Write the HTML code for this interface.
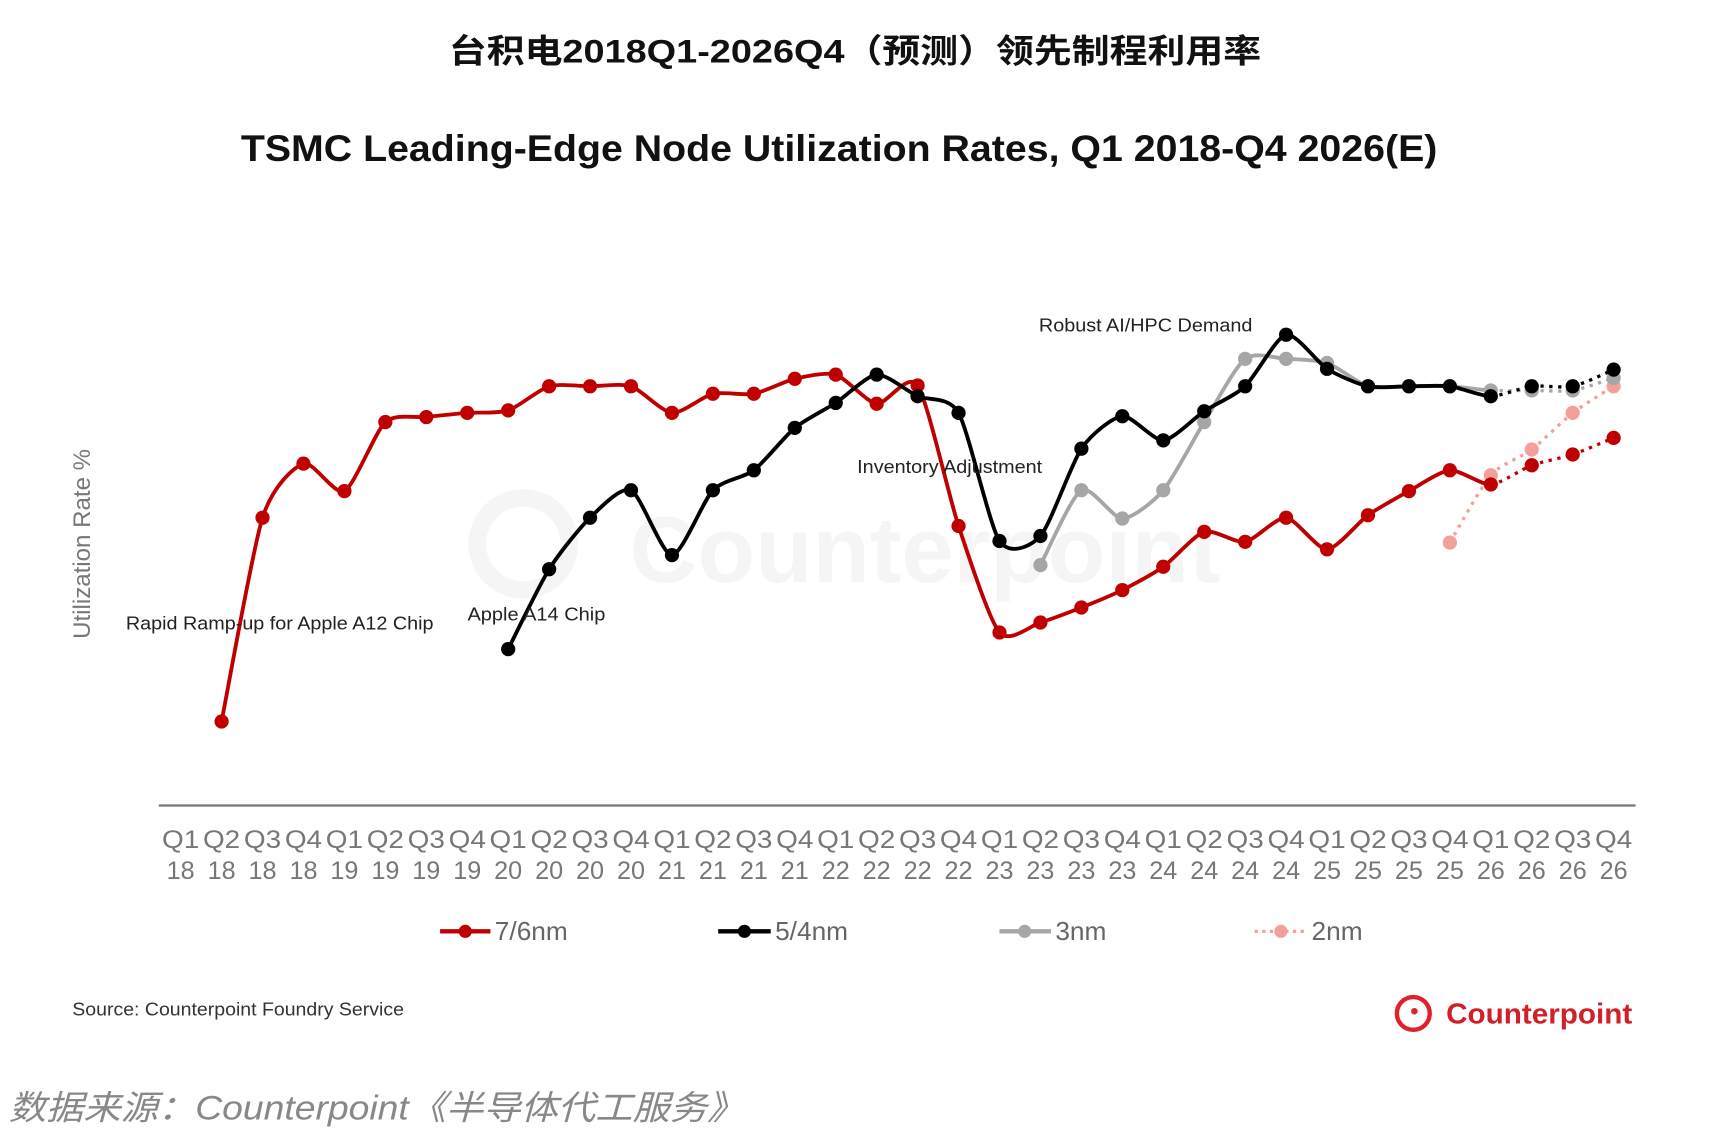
<!DOCTYPE html>
<html><head><meta charset="utf-8">
<style>
html,body{margin:0;padding:0;background:#fff;}
svg{display:block;}
text{font-family:"Liberation Sans","Noto Sans CJK SC",sans-serif;}
</style></head>
<body>
<svg id="chart" width="1716" height="1136" viewBox="0 0 1567.5 1038" preserveAspectRatio="none" xmlns="http://www.w3.org/2000/svg">
<text x="410" y="57" font-size="30" font-weight="bold" fill="#111" textLength="742" lengthAdjust="spacingAndGlyphs">台积电2018Q1-2026Q4（预测）领先制程利用率</text>
<text x="220" y="147" font-size="34" font-weight="bold" fill="#111" textLength="1093" lengthAdjust="spacingAndGlyphs">TSMC Leading-Edge Node Utilization Rates, Q1 2018-Q4 2026(E)</text>
<text x="575" y="532" font-size="86" font-weight="bold" fill="#f5f5f5">Counterpoint</text>
<circle cx="478" cy="497" r="42" fill="none" stroke="#f5f5f5" stroke-width="16"/>
<text transform="translate(82,497) rotate(-90)" text-anchor="middle" font-size="22" fill="#777">Utilization Rate %</text>
<line x1="145" y1="736" x2="1494" y2="736" stroke="#777" stroke-width="2"/>
<g id="xlabels"></g>
<g id="series"></g>
<text x="115" y="575" font-size="17" fill="#222" textLength="281" lengthAdjust="spacingAndGlyphs">Rapid Ramp-up for Apple A12 Chip</text>
<text x="427" y="567" font-size="17" fill="#222" textLength="126" lengthAdjust="spacingAndGlyphs">Apple A14 Chip</text>
<text x="783" y="432" font-size="17" fill="#222" textLength="169" lengthAdjust="spacingAndGlyphs">Inventory Adjustment</text>
<text x="949" y="303" font-size="17" fill="#222" textLength="195" lengthAdjust="spacingAndGlyphs">Robust AI/HPC Demand</text>
<g font-size="24" fill="#666">
  <g><line x1="402" y1="851" x2="448" y2="851" stroke="#c00000" stroke-width="4"/><circle cx="425" cy="851" r="6" fill="#c00000"/><text x="452" y="859">7/6nm</text></g>
  <g><line x1="656" y1="851" x2="704" y2="851" stroke="#000" stroke-width="4"/><circle cx="680" cy="851" r="6" fill="#000"/><text x="708" y="859">5/4nm</text></g>
  <g><line x1="913" y1="851" x2="960" y2="851" stroke="#a6a6a6" stroke-width="4"/><circle cx="936" cy="851" r="6" fill="#a6a6a6"/><text x="964" y="859">3nm</text></g>
  <g><line x1="1146" y1="851" x2="1193" y2="851" stroke="#f4a09a" stroke-width="3" stroke-dasharray="3,4"/><circle cx="1170" cy="851" r="6" fill="#f4a09a"/><text x="1198" y="859">2nm</text></g>
</g>
<text x="66" y="928" font-size="17" fill="#333" textLength="303" lengthAdjust="spacingAndGlyphs">Source: Counterpoint Foundry Service</text>
<g>
  <circle cx="1291" cy="926" r="15" fill="none" stroke="#e0202a" stroke-width="4"/>
  <circle cx="1292" cy="924" r="3" fill="#e0202a"/>
  <text x="1321" y="935" font-size="26" font-weight="bold" fill="#d0202a" textLength="170" lengthAdjust="spacingAndGlyphs">Counterpoint</text>
</g>
<text x="8" y="1023" font-size="31" font-style="italic" fill="#888" textLength="672" lengthAdjust="spacingAndGlyphs">数据来源：Counterpoint《半导体代工服务》</text>
</svg>
<script>
const quarters=["Q1","Q2","Q3","Q4","Q1","Q2","Q3","Q4","Q1","Q2","Q3","Q4","Q1","Q2","Q3","Q4","Q1","Q2","Q3","Q4","Q1","Q2","Q3","Q4","Q1","Q2","Q3","Q4","Q1","Q2","Q3","Q4","Q1","Q2","Q3","Q4"];
const years=["18","18","18","18","19","19","19","19","20","20","20","20","21","21","21","21","22","22","22","22","23","23","23","23","24","24","24","24","25","25","25","25","26","26","26","26"];
const n76=[null,50.1,74.6,81.1,77.8,86.1,86.7,87.2,87.5,90.4,90.4,90.4,87.2,89.5,89.5,91.3,91.8,88.3,90.5,73.6,60.8,62.0,63.8,65.9,68.7,72.9,71.7,74.6,70.8,74.9,77.8,80.3,78.6,80.9,82.2,84.2];
const n54=[null,null,null,null,null,null,null,null,58.8,68.4,74.6,77.9,70.1,77.9,80.3,85.4,88.4,91.8,89.2,87.2,71.8,72.4,82.9,86.8,83.9,87.4,90.4,96.6,92.5,90.4,90.4,90.4,89.2,90.4,90.4,92.4];
const n3=[null,null,null,null,null,null,null,null,null,null,null,null,null,null,null,null,null,null,null,null,null,68.9,77.9,74.5,77.9,86.1,93.7,93.7,93.2,90.4,90.4,90.4,89.9,89.9,89.9,91.4];
const n2=[null,null,null,null,null,null,null,null,null,null,null,null,null,null,null,null,null,null,null,null,null,null,null,null,null,null,null,null,null,null,null,71.6,79.7,82.8,87.2,90.4];
const forecastStart=32;
const NS="http://www.w3.org/2000/svg";
function xPos(i){return 165+i*37.4;}
function yPos(v){return 736-(v-40)*7.6;}
const xl=document.getElementById('xlabels');
quarters.forEach((q,i)=>{
  const t=document.createElementNS(NS,'text');
  
  
  t.setAttribute('x',xPos(i));t.setAttribute('y',775);t.setAttribute('text-anchor','middle');
  t.setAttribute('font-size','23');t.setAttribute('fill','#777');
  t.setAttribute('textLength','34');t.setAttribute('lengthAdjust','spacingAndGlyphs');
  t.textContent=q;xl.appendChild(t);
  const t2=document.createElementNS(NS,'text');
  
  
  t2.setAttribute('x',xPos(i));t2.setAttribute('y',803);t2.setAttribute('text-anchor','middle');
  t2.setAttribute('font-size','23');t2.setAttribute('fill','#777');
  t2.textContent=years[i];xl.appendChild(t2);
});
function seg(p0,p1,p2,p3){
  const k=0.12;
  const c1=[p1[0]+(p2[0]-p0[0])*k,p1[1]+(p2[1]-p0[1])*k];
  const c2=[p2[0]-(p3[0]-p1[0])*k,p2[1]-(p3[1]-p1[1])*k];
  return `M${p1[0]},${p1[1]} C${c1[0]},${c1[1]} ${c2[0]},${c2[1]} ${p2[0]},${p2[1]}`;
}
const sg=document.getElementById('series');
function drawSeries(vals,color,name,allDotted){
  const pts=[];vals.forEach((v,i)=>{if(v!==null)pts.push({i:i,p:[xPos(i),yPos(v)]});});
  const g=document.createElementNS(NS,'g');
  
  
  for(let k=0;k<pts.length-1;k++){
    const p0=pts[Math.max(0,k-1)].p,p1=pts[k].p,p2=pts[k+1].p,p3=pts[Math.min(pts.length-1,k+2)].p;
    const path=document.createElementNS(NS,'path');
    
    
    path.setAttribute('d',seg(p0,p1,p2,p3));
    path.setAttribute('fill','none');path.setAttribute('stroke',color);
    const dotted=allDotted||pts[k+1].i>forecastStart;
    path.setAttribute('stroke-width',dotted?3:3.5);
    if(dotted)path.setAttribute('stroke-dasharray','3,5');
    g.appendChild(path);
  }
  pts.forEach(o=>{
    const c=document.createElementNS(NS,'circle');
    
    
    c.setAttribute('cx',o.p[0]);c.setAttribute('cy',o.p[1]);c.setAttribute('r',6.5);c.setAttribute('fill',color);
    g.appendChild(c);
  });
  sg.appendChild(g);
}
drawSeries(n2,'#f4a09a','series-2nm',true);
drawSeries(n3,'#a6a6a6','series-3nm',false);
drawSeries(n76,'#c00000','series-7-6nm',false);
drawSeries(n54,'#000000','series-5-4nm',false);
</script>
</body></html>
